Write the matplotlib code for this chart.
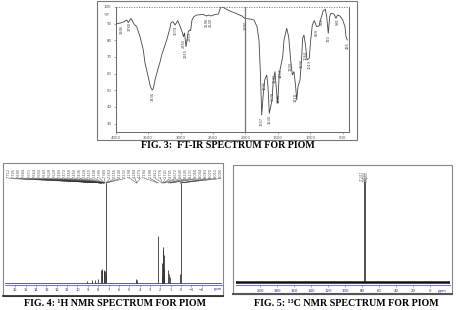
import numpy as np
import matplotlib
matplotlib.use('Agg')
import matplotlib.pyplot as plt
from matplotlib.patches import Rectangle

W, H = 458, 310

# ---- FT-IR spectrum (wavenumber cm-1, %T) ----
ir_wn = [4000, 3950, 3907, 3872, 3830, 3806, 3764, 3744, 3718, 3676, 3625, 3574,
         3548, 3522, 3494, 3471, 3448, 3435, 3417, 3394, 3352, 3316, 3290, 3213,
         3162, 3147, 3116, 3085, 3043, 3008, 2969, 2954, 2938, 2915, 2895, 2880,
         2861, 2843, 2823, 2792, 2750, 2653, 2596, 2568, 2530, 2468, 2414, 2391,
         2375, 2344, 2313, 2236, 2144, 2051, 2005, 1928, 1866, 1820, 1789, 1766,
         1747, 1722, 1701, 1670, 1650, 1630, 1608, 1588, 1568, 1542, 1516, 1500,
         1476, 1449, 1423, 1403, 1361, 1331, 1300, 1275, 1249, 1223, 1207, 1187,
         1156, 1130, 1115, 1095, 1068, 1048, 1013, 991, 966, 936, 899, 863,
         832, 797, 766, 744, 720, 698, 678, 632, 601, 575, 539, 497,
         462, 446, 426]
ir_t = [89.8, 90.2, 90.6, 91.2, 92.2, 90.6, 93.2, 91.8, 89.8, 88.2, 82.2, 74.2,
        66.4, 62.2, 57.4, 53.2, 50.8, 50.2, 51.4, 56.2, 62.2, 67.0, 71.2, 80.2,
        87.4, 90.6, 91.2, 89.2, 91.8, 88.6, 84.4, 82.2, 84.4, 76.2, 81.4, 85.2,
        86.2, 85.9, 92.2, 94.3, 95.2, 95.5, 94.6, 95.2, 94.6, 95.5, 95.8, 98.8,
        100.0, 100.0, 99.1, 97.6, 96.1, 94.6, 93.1, 92.8, 92.2, 88.2, 80.2, 59.2,
        35.2, 48.2, 56.2, 59.2, 52.2, 36.2, 40.2, 44.2, 56.2, 61.2, 48.2, 42.2,
        60.2, 65.2, 70.2, 80.2, 87.2, 82.2, 68.2, 59.2, 61.2, 52.2, 44.2, 52.2,
        56.2, 70.2, 81.2, 83.2, 76.2, 68.2, 69.2, 80.2, 89.2, 91.8, 88.2, 88.6,
        93.2, 97.8, 98.6, 94.2, 84.2, 94.2, 96.2, 95.8, 93.2, 95.2, 94.6, 92.2,
        88.2, 82.2, 80.2]
ir_label_wn = [3906, 3780, 3435, 3074, 2955, 2915, 2853, 2596, 2530, 1990,
               1747, 1696, 1630, 1578, 1542, 1491, 1454, 1300, 1218, 1130,
               1064, 1013, 899, 822, 720, 581, 426]
ir_xticks = [4000, 3500, 3000, 2500, 2000, 1500, 1000, 500]
ir_yticks = [30, 40, 50, 60, 70, 80, 90, 100]

# ---- 1H NMR (ppm, intensity) ----
h_ppm = [9.05, 8.62, 8.30, 8.02, 7.70, 7.66, 7.62, 7.45, 7.42, 7.38, 7.26, 7.20,
         4.30, 4.26, 2.19, 1.84, 1.80, 1.76, 1.72, 1.68, 1.64, 1.60,
         1.24, 1.20, 1.05, 0.08, 0.00]
h_int = [1.5, 2.5, 2.5, 3.5, 13, 14, 13, 12, 13, 12, 99.7, 9,
         4, 2.5, 46.5, 8, 20, 33, 36, 28, 14, 6,
         13, 9, 6, 9, 99.7]
h_labels = [7.712, 7.705, 7.690, 7.684, 7.671, 7.664, 7.650, 7.643, 7.628, 7.620,
            7.480, 7.472, 7.458, 7.450, 7.436, 7.428, 7.415, 7.408, 7.395, 7.380,
            7.262, 7.255, 7.240, 7.232,
            4.298, 4.284, 4.270, 2.194, 2.188,
            1.812, 1.776, 1.741, 1.705, 1.672, 1.640,
            1.245, 1.231, 1.058, 1.044, 0.083, 0.070, 0.012, 0.000]
h_xticks = list(range(16, -3, -1))

# ---- 13C NMR ----
c_ppm = [77.0]
c_int = [100]
c_labels = [77.317, 77.000, 76.683]
c_xticks = list(range(200, -1, -20))

fig = plt.figure(figsize=(W / 100, H / 100), dpi=100)


def px_axes(x0, y0, x1, y1):
    ax = fig.add_axes([x0 / W, 1 - y1 / H, (x1 - x0) / W, (y1 - y0) / H])
    ax.patch.set_alpha(0)
    return ax


# frames and captions in pixel coordinates
bg = fig.add_axes([0, 0, 1, 1])
bg.set_xlim(0, W)
bg.set_ylim(H, 0)
bg.axis('off')
bg.add_patch(Rectangle((97, 1), 260, 139, fill=False, ec='#777777', lw=0.8))
bg.add_patch(Rectangle((3, 163), 220, 133, fill=False, ec='#888888', lw=0.8))
bg.plot([3, 223], [296, 296], color='#222222', lw=1.2)
bg.add_patch(Rectangle((233, 165), 219, 129, fill=False, ec='#888888', lw=0.8))
bg.plot([233, 452], [294, 294], color='#555555', lw=1.5)

cap = dict(ha='center', va='center', fontsize=7.2, fontweight='bold', family='Liberation Serif')
bg.text(228, 146, "FIG. 3:  FT-IR SPECTRUM FOR PIOM", **cap)
bg.text(115, 304, "FIG. 4: ¹H NMR SPECTRUM FOR PIOM", **cap)
bg.text(346, 304, "FIG. 5: ¹³C NMR SPECTRUM FOR PIOM", **cap)

# ---------------- FT-IR ----------------
ax_ir = px_axes(115.7, 7, 349, 132)
ax_ir.plot(ir_wn, ir_t, color='#444444', lw=0.6)
ax_ir.set_xlim(4000, 400)
ax_ir.set_ylim(25, 100)
ax_ir.axvline(2000, color='#777777', lw=0.9)
ax_ir.axhline(100, color='#777777', lw=0.6, ls=(0, (1.5, 1.5)))
ax_ir.spines['top'].set_visible(False)
for s in ['left', 'bottom', 'right']:
    ax_ir.spines[s].set_color('#666666')
    ax_ir.spines[s].set_linewidth(0.7)
ax_ir.set_xticks(ir_xticks)
ax_ir.set_yticks(ir_yticks)
ax_ir.tick_params(labelsize=2.8, labelcolor='#555555', length=1.5, width=0.4,
                  color='#666666', pad=1.5)
ax_ir.text(-0.025, 95, '%T', transform=ax_ir.get_yaxis_transform(), ha='right',
           va='center', fontsize=2.8, color='#555555')

wn_inc = np.array(ir_wn[::-1])
t_inc = np.array(ir_t[::-1])
for wn in ir_label_wn:
    t = np.interp(wn, wn_inc, t_inc)
    ax_ir.text(wn, t - 1.2, str(wn), rotation=90, ha='center', va='top',
               fontsize=2.6, color='#444444')

# ---------------- 1H NMR ----------------
ax_h = px_axes(5, 183, 222, 285)
ax_h.set_xlim(17.0, -3.96)
ax_h.set_ylim(-2.3, 99.7)
ax_h.axhline(0, color='#222222', lw=0.5)
ax_h.vlines(h_ppm, 0, h_int, color='#333333', lw=0.6)
for s in ['left', 'right', 'top']:
    ax_h.spines[s].set_visible(False)
ax_h.spines['bottom'].set_color('#5a5ad8')
ax_h.spines['bottom'].set_linewidth(0.6)
ax_h.set_yticks([])
ax_h.set_xticks(h_xticks)
ax_h.tick_params(axis='x', labelsize=2.6, labelcolor='#2b2b8c', color='#5a5ad8',
                 length=1.2, width=0.4, pad=0.8)
ax_h.text(0.983, -0.018, 'ppm', transform=ax_h.transAxes, ha='center', va='top',
          fontsize=2.6, color='#2b2b8c')

label_x = np.linspace(16.6, -3.85, len(h_labels))
for lx, v in zip(label_x, h_labels):
    ax_h.text(lx, 114.7, f"{v:.3f}", rotation=90, ha='center', va='top',
              fontsize=2.5, color='#555555', clip_on=False)
    ax_h.plot([lx, v], [104.2, 99.7], color='#333333', lw=0.3, clip_on=False)

# ---------------- 13C NMR ----------------
ax_c = px_axes(236, 181, 450, 285)
ax_c.set_xlim(228.2, -23.5)
ax_c.set_ylim(-3.3, 100.7)
ax_c.axhline(0, color='#111111', lw=1.8)
ax_c.vlines(c_ppm, 0, c_int, color='#222222', lw=1.1)
for s in ['left', 'right', 'top']:
    ax_c.spines[s].set_visible(False)
ax_c.spines['bottom'].set_color('#5a5ad8')
ax_c.spines['bottom'].set_linewidth(0.6)
ax_c.set_yticks([])
ax_c.set_xticks(c_xticks)
ax_c.tick_params(axis='x', labelsize=2.8, labelcolor='#2b2b8c', color='#5a5ad8',
                 length=1.2, width=0.4, pad=1.8)
ax_c.text(0.962, -0.035, 'ppm', transform=ax_c.transAxes, ha='center', va='top',
          fontsize=2.8, color='#2b2b8c')

c_label_x = [80.2, 77.0, 73.8]
for lx, v in zip(c_label_x, c_labels):
    ax_c.text(lx, 110.7, f"{v:.3f}", rotation=90, ha='center', va='top',
              fontsize=2.2, color='#555555', clip_on=False)
    ax_c.plot([lx, c_ppm[0]], [103.6, 100.7], color='#333333', lw=0.3, clip_on=False)

fig.savefig('out.png', dpi=100)
